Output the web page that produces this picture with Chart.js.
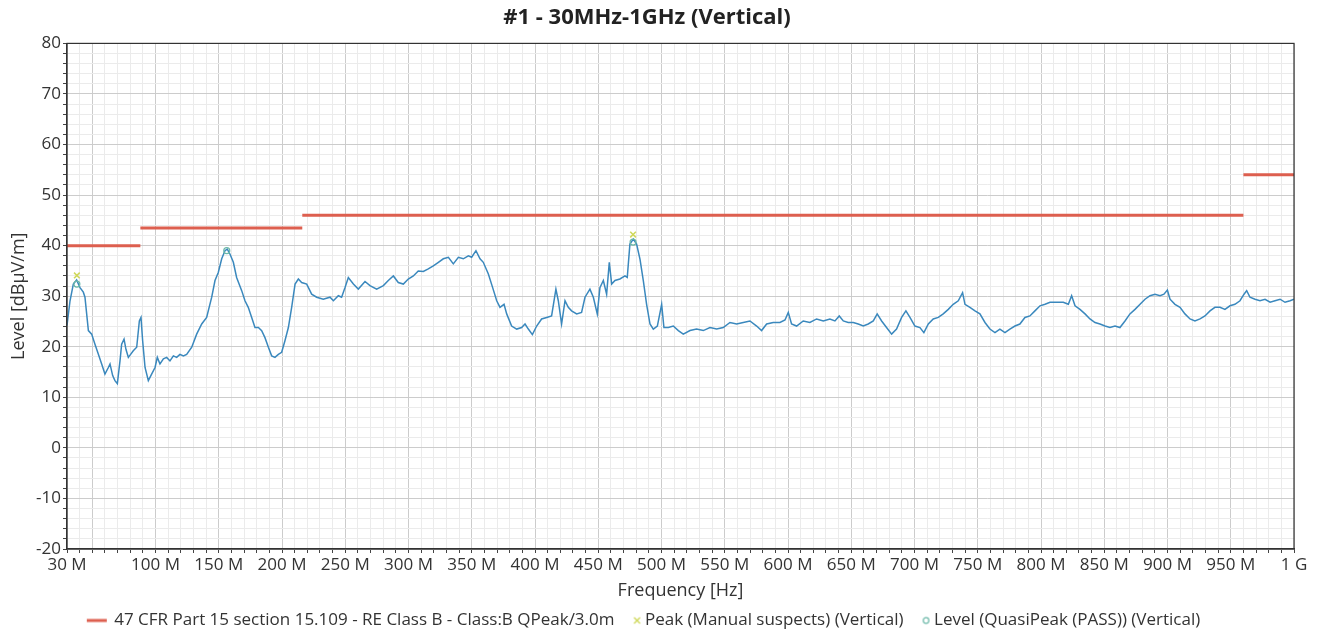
<!DOCTYPE html>
<html>
<head>
<meta charset="utf-8">
<title>#1 - 30MHz-1GHz (Vertical)</title>
<script src="https://cdn.jsdelivr.net/npm/chart.js@4.4.1/dist/chart.umd.min.js"></script>
<style>
  html, body { margin: 0; padding: 0; background: #fff; }
  #wrap { width: 1317px; height: 631px; }
</style>
</head>
<body>
<div id="wrap"><canvas id="grafico"></canvas></div>
<script>
// ==================== DATA ====================
const freqMHz = [
  30, 32.4, 35, 37.6, 40.3, 42.9, 44.2, 46.9, 49.5, 52.1, 54.8, 57.4, 60, 62.7, 64, 66.1, 67.9, 69.8,
  71.9, 73.2, 75.1, 76.6, 78.5, 80.3, 82.4, 85.1, 87.2, 88.5, 89.8, 91.7, 94.3, 96.9, 99.6,
  101.4, 103.5, 106.2, 108.8, 111.4, 114.1, 116.7, 119.3, 122, 124.6, 128.6, 132.5, 136.5, 140.4,
  144.4, 147, 149.6, 152.3, 154.9, 156.7, 158.9, 161.5, 164.1, 168.1, 170.7, 173.3, 176, 178.6,
  181.3, 183.9, 186.5, 189.2, 191.8, 194.4, 197.1, 199.7, 202.3, 205, 207.6, 210.3, 212.9, 215.5,
  219.5, 223.4, 227.4, 232.6, 237.9, 240.6, 244.5, 247.1, 249.8, 252.4, 256.4, 260.3, 265.6, 269.5,
  274.8, 280.1, 284, 288, 291.9, 295.9, 299.8, 303.8, 307.7, 311.7, 315.6, 319.6, 323.6, 327.5,
  331.5, 335.4, 339.4, 343.3, 347.3, 349.9, 353.3, 356.5, 359.1, 363.1, 366.5, 369.7, 372.3, 375.5,
  377.6, 381.5, 385.5, 389.4, 392.1, 394.7, 397.9, 401.3, 405.2, 409.2, 413.1, 416.5, 418.4, 421,
  423.7, 426.3, 428.9, 432.9, 436.8, 439.5, 443.4, 446.1, 449.2, 451.3, 454, 456.6, 458.7, 460.6,
  463.2, 467.1, 471.1, 472.9, 475, 477.7, 480.3, 483, 485.6, 488.2, 490.9, 493.5, 496.7, 500.1,
  501.9, 505.4, 509.3, 513.3, 517.2, 522.5, 527.7, 533, 538.3, 543.6, 548.8, 554.1, 559.4, 564.6,
  569.9, 575.2, 579.1, 583.1, 588.3, 593.6, 597.6, 600.2, 602.8, 606.8, 612, 617.3, 622.6, 627.9,
  633.1, 637.1, 640.5, 643.7, 647.6, 651.6, 655.5, 659.5, 663.4, 667.4, 670.5, 674, 677.9, 681.9,
  685.8, 689.8, 693.2, 696.4, 700.3, 704.3, 707.4, 710.9, 714.8, 718.8, 722.7, 726.7, 730.6, 734.6,
  738, 739.9, 743.8, 747.8, 751.7, 755.7, 759.6, 763.6, 767.5, 771.5, 775.4, 779.4, 783.3, 787.3,
  791.2, 795.2, 799.2, 803.2, 807.1, 812.4, 817.6, 821.6, 824.2, 826.9, 830.8, 834.8, 838.7, 842.7,
  846.6, 850.6, 854.5, 858.5, 862.4, 866.4, 870.3, 874.3, 878.3, 882.2, 886.2, 890.1, 894.1, 897.2,
  899.9, 902, 905.9, 909.9, 913.8, 917.8, 921.7, 925.7, 929.6, 933.6, 937.5, 941.5, 945.4, 949.4,
  953.3, 957.3, 960.5, 962.6, 965.2, 969.2, 973.1, 977.1, 981.1, 985, 989, 992.9, 996.9, 1000
];
const levelDbuV = [
  24.2, 29.1, 32.4, 33.2, 31.7, 30.8, 29.8, 23.2, 22.5, 20.5, 18.5, 16.6, 14.6, 15.9, 16.6, 14.3, 13.3, 12.7,
  17.2, 20.5, 21.5, 19.5, 17.9, 18.5, 19.2, 19.9, 25.1, 25.8, 21.2, 15.9, 13.3, 14.6, 15.9,
  17.9, 16.6, 17.6, 17.9, 17.2, 18.2, 17.9, 18.5, 18.2, 18.5, 19.9, 22.5, 24.5, 25.8,
  29.8, 33.1, 34.7, 37.4, 39.0, 39.3, 38.3, 36.7, 33.7, 31.1, 29.1, 27.8, 25.8, 23.8,
  23.8, 23.2, 21.8, 19.9, 18.2, 17.9, 18.5, 18.9, 21.2, 23.8, 27.8, 32.4, 33.4, 32.7,
  32.4, 30.4, 29.8, 29.4, 29.8, 29.1, 30.1, 29.8, 31.7, 33.7, 32.4, 31.4, 32.9, 32.1,
  31.4, 32.1, 33.1, 34.0, 32.7, 32.4, 33.4, 34.0, 35.0, 34.9, 35.4, 36.0, 36.7, 37.4,
  37.7, 36.4, 37.7, 37.4, 38.0, 37.7, 39.0, 37.4, 36.7, 34.4, 31.7, 29.1, 27.8, 28.4,
  26.5, 24.1, 23.5, 23.8, 24.5, 23.5, 22.4, 24.1, 25.5, 25.8, 26.1, 31.4, 29.1, 24.5,
  29.1, 27.8, 27.1, 26.5, 26.8, 29.8, 31.4, 29.8, 26.5, 31.7, 33.1, 30.4, 36.7, 32.4,
  33.1, 33.4, 34.0, 33.7, 40.3, 41.3, 40.3, 37.3, 33.1, 28.4, 24.5, 23.5, 24.1, 28.4,
  23.8, 23.8, 24.1, 23.2, 22.5, 23.2, 23.5, 23.2, 23.8, 23.5, 23.8, 24.8, 24.5, 24.8,
  25.1, 24.1, 23.2, 24.5, 24.8, 24.8, 25.3, 26.8, 24.5, 24.1, 25.1, 24.8, 25.5, 25.1,
  25.5, 25.1, 26.1, 25.1, 24.8, 24.8, 24.5, 24.1, 24.5, 25.1, 26.5, 25.1, 23.8, 22.5,
  23.5, 25.8, 27.1, 25.8, 24.1, 23.8, 22.8, 24.5, 25.5, 25.8, 26.5, 27.4, 28.4, 29.1,
  30.7, 28.4, 27.8, 27.1, 26.5, 24.8, 23.5, 22.8, 23.5, 22.8, 23.5, 24.1, 24.5, 25.8,
  26.1, 27.1, 28.1, 28.4, 28.8, 28.8, 28.8, 28.4, 30.1, 28.1, 27.4, 26.5, 25.5, 24.8,
  24.5, 24.1, 23.8, 24.1, 23.8, 25.1, 26.5, 27.4, 28.4, 29.4, 30.1, 30.4, 30.1, 30.4,
  31.2, 29.4, 28.4, 27.8, 26.5, 25.5, 25.1, 25.5, 26.1, 27.1, 27.8, 27.8, 27.4, 28.1,
  28.4, 29.1, 30.4, 31.1, 29.8, 29.4, 29.1, 29.4, 28.8, 29.1, 29.4, 28.8, 29.1, 29.4
];

// Limit line (null = break between steps)
const limitFreqMHz = [30, 88, 88, 88, 216, 216, 216, 960, 960, 960, 1000];
const limitDbuV = [40, 40, null, 43.5, 43.5, null, 46, 46, null, 54, 54];

// Markers
const peakFreqMHz = [37.8, 477.5];
const peakDbuV = [34.1, 42.2];
const qpFreqMHz = [37.8, 156.3, 477.5];
const qpDbuV = [32.4, 39.0, 40.7];

const xLabelTicks = [30, 100, 150, 200, 250, 300, 350, 400, 450, 500, 550, 600, 650, 700, 750, 800, 850, 900, 950, 1000];

// ==================== CHART ====================
const puntos = (xs, ys) => xs.map((x, i) => ({ x: x, y: ys[i] }));

// legend symbols (canvas 40x10, drawn centred on the 12px legend box)
function icono(dibujar) {
  const c = document.createElement("canvas");
  c.width = 40; c.height = 10;
  dibujar(c.getContext("2d"));
  return c;
}
const iconos = {
  0: icono(g => { g.fillStyle = "#dd5f4f"; g.fillRect(7, 3.5, 20, 3); }),
  2: icono(g => { g.strokeStyle = "#cfd85a"; g.lineWidth = 1.4; g.beginPath();
    g.moveTo(23.5, 2); g.lineTo(29.5, 8); g.moveTo(29.5, 2); g.lineTo(23.5, 8); g.stroke(); }),
  3: icono(g => { g.strokeStyle = "#6bb8a8"; g.lineWidth = 1.2; g.beginPath();
    g.arc(26.5, 5, 2.8, 0, Math.PI * 2); g.stroke(); })
};

const marco = {
  id: "marco",
  afterDraw(chart) {
    const a = chart.chartArea, g = chart.ctx;
    g.save();
    g.strokeStyle = "#333";
    g.lineWidth = 1.2;
    g.strokeRect(a.left, a.top, a.right - a.left, a.bottom - a.top);
    g.restore();
  }
};

Chart.defaults.font.family = "'Open Sans', 'DejaVu Sans', sans-serif";
Chart.defaults.color = "#333";

const ctx = document.getElementById("grafico").getContext("2d");
const chart = new Chart(ctx, {
  type: "line",
  data: {
    datasets: [
      { label: "47 CFR Part 15 section 15.109 - RE Class B - Class:B QPeak/3.0m", data: puntos(limitFreqMHz, limitDbuV),
        borderColor: "#dd5f4f", borderWidth: 3, pointRadius: 0, spanGaps: false, order: 1 },
      { label: "Level", data: puntos(freqMHz, levelDbuV),
        borderColor: "#3a88bd", borderWidth: 1.5, pointRadius: 0, tension: 0, order: 2 },
      { label: "Peak (Manual suspects) (Vertical)", data: puntos(peakFreqMHz, peakDbuV), showLine: false,
        pointStyle: "crossRot", pointRadius: 4, borderColor: "#cfd85a", borderWidth: 1.5, order: 0 },
      { label: "Level (QuasiPeak (PASS)) (Vertical)", data: puntos(qpFreqMHz, qpDbuV), showLine: false,
        pointStyle: "circle", pointRadius: 3, borderColor: "#6bb8a8", backgroundColor: "rgba(255,255,255,0)", borderWidth: 1.2, order: 0 }
    ]
  },
  options: {
    responsive: true,
    maintainAspectRatio: false,
    animation: false,
    layout: { padding: { left: 0, right: 23, top: 0, bottom: -8 } },
    plugins: {
      title: { display: true, text: "#1 - 30MHz-1GHz (Vertical)", color: "#222",
        font: { size: 22, weight: "bold" }, padding: { top: 5, bottom: 12 } },
      legend: {
        position: "bottom",
        labels: {
          usePointStyle: true, pointStyleWidth: 12, padding: 10, font: { size: 17 }, color: "#333",
          sort: (a, b) => a.datasetIndex - b.datasetIndex,
          generateLabels: c => Chart.defaults.plugins.legend.labels.generateLabels(c)
            .filter(l => l.datasetIndex !== 1)
            .map(l => { l.pointStyle = iconos[l.datasetIndex]; return l; })
        }
      },
      tooltip: { enabled: false }
    },
    scales: {
      x: {
        type: "linear", min: 30, max: 1000,
        title: { display: true, text: "Frequency [Hz]", font: { size: 18 }, color: "#333", padding: { top: 3, bottom: 0 } },
        ticks: {
          stepSize: 10, maxTicksLimit: 200, autoSkip: false, maxRotation: 0, font: { size: 17 }, color: "#333", padding: 2,
          callback: v => xLabelTicks.includes(v) ? (v === 1000 ? "1 G" : v + " M") : ""
        },
        grid: {
          color: c => (c.tick && c.tick.value % 50 === 0) ? "#cccccc" : "#ebebeb",
          tickColor: "#444", tickLength: 4
        },
        border: { display: true, color: "#333", width: 1.2 }
      },
      y: {
        min: -20, max: 80,
        afterFit: s => { s.width = 67; },
        title: { display: true, text: "Level [dBµV/m]", font: { size: 18 }, color: "#333", padding: { top: 8, bottom: 0 } },
        ticks: {
          stepSize: 2, maxTicksLimit: 200, autoSkip: false, font: { size: 17 }, color: "#333", padding: 2,
          callback: v => v % 10 === 0 ? String(v) : ""
        },
        grid: {
          color: c => (c.tick && c.tick.value % 10 === 0) ? "#cccccc" : "#ebebeb",
          tickColor: "#444", tickLength: 4
        },
        border: { display: true, color: "#333", width: 1.2 }
      }
    }
  },
  plugins: [marco]
});
</script>
</body>
</html>
